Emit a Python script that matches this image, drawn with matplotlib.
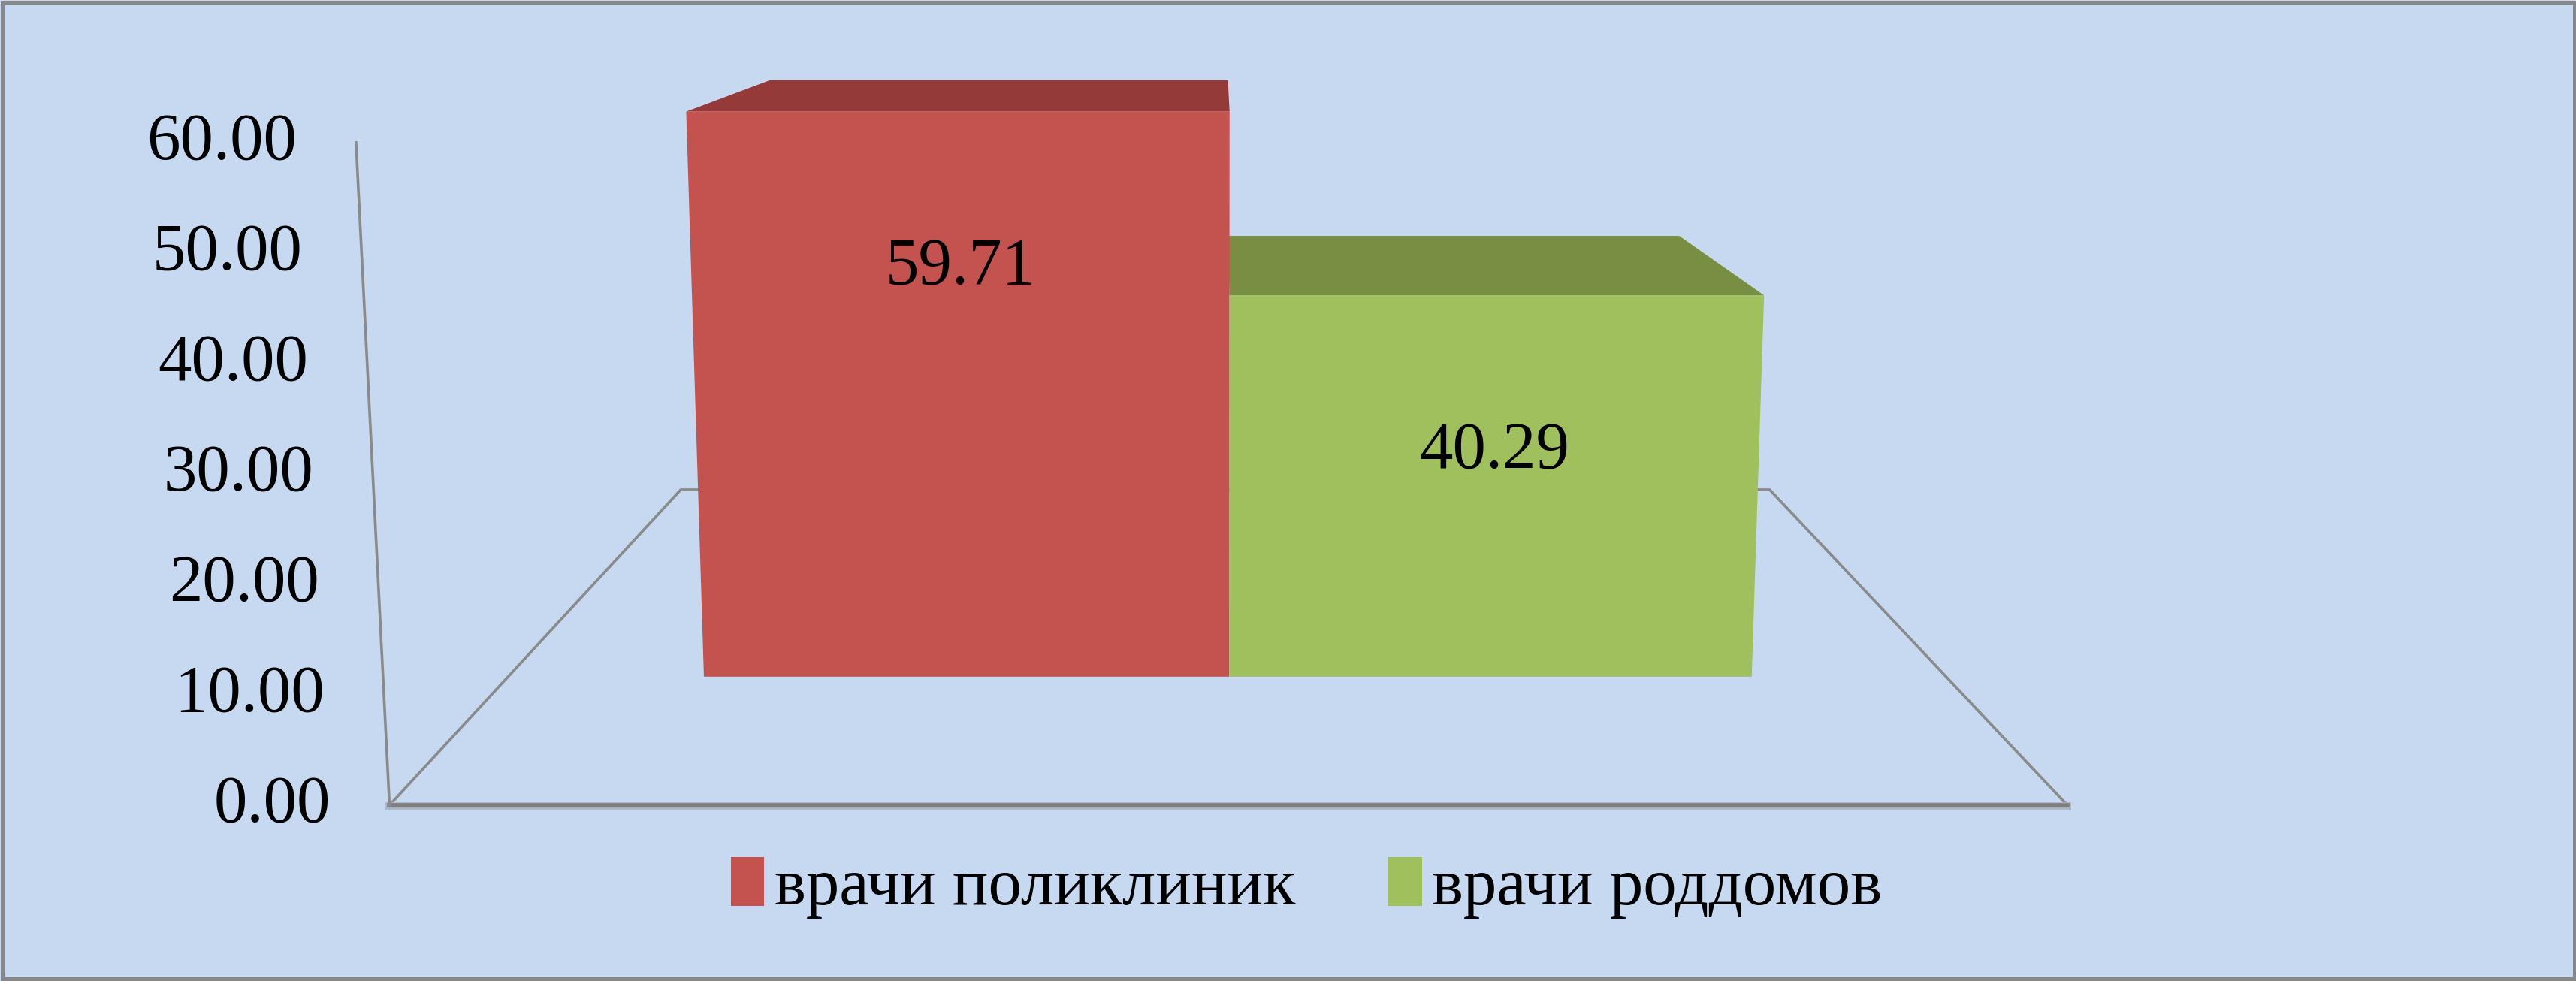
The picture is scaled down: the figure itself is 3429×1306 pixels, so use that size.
import numpy as np
import matplotlib.pyplot as plt
from matplotlib.patches import Polygon, Rectangle

# data
categories = ["врачи поликлиник", "врачи роддомов"]
values = [59.71, 40.29]
value_labels = ["59.71", "40.29"]
ticks = [0, 10, 20, 30, 40, 50, 60]

front_colors = ["#C4524F", "#A0C05E"]
top_colors = ["#943B39", "#788F43"]
bg = "#C6D9F1"
line_col = "#8A8A8A"

plt.rcParams['font.family'] = ['Liberation Serif', 'DejaVu Serif']

# simple one-point perspective, units are px of a 1568x597 picture
VX, VY = 742, -57
FLOOR_Y = 490
PX_PER_UNIT = 6.72
TILT = 1.0e-4


def proj(X, Y, s):
    h = Y * PX_PER_UNIT * s
    return VX + X * s * (1 + TILT * h), VY + (FLOOR_Y - VY) * s - h


fig = plt.figure(figsize=(34.3, 13.06), dpi=100, facecolor=bg)
ax = fig.add_axes([0, 0, 1, 1])
ax.set_xlim(0, 1568)
ax.set_ylim(597, 0)
ax.axis('off')

# floor
fl, fr = -505, 516
s_back_floor = 0.649
p = [proj(fl, 0, 1), proj(fl, 0, s_back_floor), proj(fr, 0, s_back_floor), proj(fr, 0, 1)]
ax.plot([q[0] for q in p], [q[1] for q in p], color=line_col, lw=2.6, zorder=1)
a, b = proj(fl, 0, 1), proj(fr, 0, 1)
ax.plot([a[0], b[0]], [a[1] + 0.7, b[1] + 0.7], color="#A9B4C2", lw=7, zorder=1)
ax.plot([a[0], b[0]], [a[1], b[1]], color="#7F7F7F", lw=4, zorder=2)

# value axis
top = proj(fl, 60.0, 1)
ax.plot([a[0], top[0]], [a[1], top[1]], color=line_col, lw=2.6, zorder=2)
for t in ticks:
    x, y = proj(fl, t, 1)
    ax.text(x - 36, y, f"{t:.2f}", ha='right', va='center', fontsize=64)

# bars
edges = [-366, 7, 378]
sf, sb = 0.857, 0.726
for i, v in enumerate(values):
    x0, x1 = edges[i], edges[i + 1]
    face = [proj(x0, 0, sf), proj(x1, 0, sf), proj(x1, v, sf), proj(x0, v, sf)]
    roof = [proj(x0, v, sf), proj(x1, v, sf), proj(x1, v, sb), proj(x0, v, sb)]
    ax.add_patch(Polygon(roof, closed=True, facecolor=top_colors[i], edgecolor='none', zorder=3))
    ax.add_patch(Polygon(face, closed=True, facecolor=front_colors[i], edgecolor='none', zorder=4))
    lx, ly = proj((x0 + x1) / 2, v - 16.5, sf)
    ax.text(lx, ly, value_labels[i], ha='center', va='center', fontsize=64, zorder=5)

# legend
handles = [Rectangle((0, 0), 1, 1, facecolor=c, edgecolor='none') for c in front_colors]
fig.legend(handles, categories, loc='center', bbox_to_anchor=(0.507, 0.095), ncol=2,
           frameon=False, fontsize=64, handlelength=0.5, handleheight=0.75,
           handletextpad=0.15, columnspacing=1.4)

# outer border
fig.add_artist(Rectangle((0.0008, 0.002), 0.9984, 0.996, transform=fig.transFigure,
                         fill=False, edgecolor="#878787", lw=3.6))

fig.savefig("out.png", dpi=100, facecolor=bg)
